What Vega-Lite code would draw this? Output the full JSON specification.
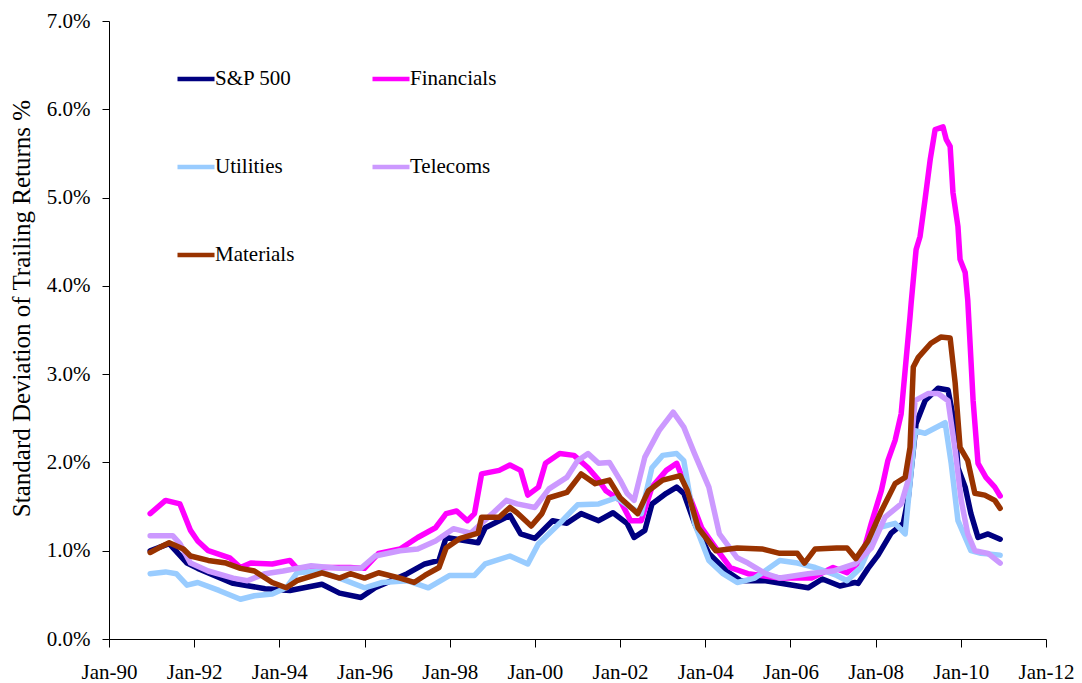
{
  "$schema": "https://vega.github.io/schema/vega-lite/v6.json",
  "width": 937,
  "height": 618,
  "autosize": "none",
  "padding": {"left": 109, "top": 21, "right": 36, "bottom": 44},
  "background": "white",
  "config": {"view": {"stroke": null}, "font": "Liberation Serif"},
  "datasets": {
    "sp": [
      {"d":"1990-12-20","v":1.00},{"d":"1991-06-01","v":1.08},{"d":"1991-11-01","v":0.86},{"d":"1992-02-01","v":0.80},{"d":"1992-12-01","v":0.63},{"d":"1993-09-01","v":0.57},{"d":"1994-04-01","v":0.55},{"d":"1995-01-01","v":0.62},{"d":"1995-06-01","v":0.52},{"d":"1995-12-01","v":0.47},{"d":"1996-04-01","v":0.58},{"d":"1997-01-01","v":0.74},{"d":"1997-06-01","v":0.85},{"d":"1997-10-01","v":0.89},{"d":"1997-12-01","v":1.15},{"d":"1998-09-01","v":1.09},{"d":"1998-11-01","v":1.26},{"d":"1999-06-01","v":1.40},{"d":"1999-09-01","v":1.19},{"d":"2000-01-01","v":1.14},{"d":"2000-06-01","v":1.34},{"d":"2000-10-01","v":1.31},{"d":"2001-02-01","v":1.42},{"d":"2001-07-01","v":1.34},{"d":"2001-11-01","v":1.43},{"d":"2002-03-01","v":1.31},{"d":"2002-05-01","v":1.15},{"d":"2002-08-01","v":1.23},{"d":"2002-10-01","v":1.53},{"d":"2003-02-01","v":1.65},{"d":"2003-05-01","v":1.72},{"d":"2003-07-01","v":1.65},{"d":"2003-10-01","v":1.31},{"d":"2004-02-01","v":0.97},{"d":"2004-07-01","v":0.77},{"d":"2004-11-01","v":0.66},{"d":"2005-06-01","v":0.66},{"d":"2005-12-01","v":0.62},{"d":"2006-06-01","v":0.58},{"d":"2006-10-01","v":0.68},{"d":"2007-03-01","v":0.60},{"d":"2007-07-07","v":0.64},{"d":"2007-08-04","v":0.63},{"d":"2007-10-28","v":0.80},{"d":"2008-01-22","v":0.95},{"d":"2008-05-13","v":1.20},{"d":"2008-08-25","v":1.31},{"d":"2008-10-07","v":1.60},{"d":"2008-12-13","v":2.44},{"d":"2009-02-28","v":2.70},{"d":"2009-06-19","v":2.84},{"d":"2009-09-13","v":2.82},{"d":"2009-11-13","v":2.40},{"d":"2009-12-07","v":1.94},{"d":"2010-02-07","v":1.72},{"d":"2010-03-28","v":1.42},{"d":"2010-05-28","v":1.15},{"d":"2010-08-22","v":1.19},{"d":"2010-12-04","v":1.13}
    ],
    "fin": [
      {"d":"1990-12-20","v":1.42},{"d":"1991-05-01","v":1.57},{"d":"1991-09-01","v":1.53},{"d":"1991-12-01","v":1.23},{"d":"1992-02-01","v":1.11},{"d":"1992-05-01","v":1.00},{"d":"1992-11-01","v":0.92},{"d":"1993-02-01","v":0.81},{"d":"1993-05-01","v":0.86},{"d":"1993-11-01","v":0.85},{"d":"1994-04-01","v":0.89},{"d":"1994-06-01","v":0.80},{"d":"1995-02-01","v":0.81},{"d":"1995-09-01","v":0.81},{"d":"1996-01-01","v":0.80},{"d":"1996-05-01","v":0.97},{"d":"1996-11-01","v":1.02},{"d":"1997-04-01","v":1.15},{"d":"1997-09-01","v":1.26},{"d":"1997-12-01","v":1.42},{"d":"1998-03-01","v":1.45},{"d":"1998-06-01","v":1.34},{"d":"1998-08-01","v":1.42},{"d":"1998-10-01","v":1.87},{"d":"1999-03-01","v":1.91},{"d":"1999-06-01","v":1.97},{"d":"1999-09-01","v":1.91},{"d":"1999-11-01","v":1.63},{"d":"2000-02-01","v":1.72},{"d":"2000-04-01","v":1.99},{"d":"2000-08-01","v":2.10},{"d":"2000-12-01","v":2.08},{"d":"2001-04-01","v":1.94},{"d":"2001-07-01","v":1.80},{"d":"2001-09-01","v":1.68},{"d":"2002-01-01","v":1.57},{"d":"2002-04-01","v":1.34},{"d":"2002-07-01","v":1.34},{"d":"2002-10-01","v":1.72},{"d":"2003-02-01","v":1.91},{"d":"2003-05-01","v":1.99},{"d":"2003-08-01","v":1.68},{"d":"2003-12-01","v":1.26},{"d":"2004-04-01","v":1.03},{"d":"2004-08-01","v":0.81},{"d":"2005-01-01","v":0.74},{"d":"2005-10-01","v":0.69},{"d":"2006-07-01","v":0.69},{"d":"2007-01-01","v":0.81},{"d":"2007-05-01","v":0.75},{"d":"2007-08-28","v":0.89},{"d":"2007-11-25","v":1.31},{"d":"2008-02-19","v":1.68},{"d":"2008-04-15","v":2.02},{"d":"2008-06-16","v":2.25},{"d":"2008-08-07","v":2.55},{"d":"2008-10-22","v":3.65},{"d":"2008-11-01","v":3.81},{"d":"2008-12-13","v":4.41},{"d":"2009-01-16","v":4.56},{"d":"2009-02-28","v":4.98},{"d":"2009-04-13","v":5.43},{"d":"2009-05-25","v":5.77},{"d":"2009-08-01","v":5.80},{"d":"2009-08-28","v":5.66},{"d":"2009-10-01","v":5.58},{"d":"2009-10-25","v":5.06},{"d":"2009-12-07","v":4.67},{"d":"2009-12-25","v":4.30},{"d":"2010-02-07","v":4.15},{"d":"2010-03-01","v":3.84},{"d":"2010-04-16","v":2.70},{"d":"2010-05-28","v":1.99},{"d":"2010-08-04","v":1.83},{"d":"2010-10-19","v":1.72},{"d":"2010-12-04","v":1.62}
    ],
    "utl": [
      {"d":"1990-12-20","v":0.74},{"d":"1991-05-01","v":0.76},{"d":"1991-08-01","v":0.74},{"d":"1991-11-01","v":0.61},{"d":"1992-02-01","v":0.64},{"d":"1992-08-01","v":0.55},{"d":"1993-02-01","v":0.45},{"d":"1993-06-01","v":0.49},{"d":"1993-11-01","v":0.51},{"d":"1994-03-01","v":0.58},{"d":"1994-06-01","v":0.75},{"d":"1994-12-01","v":0.77},{"d":"1995-06-01","v":0.69},{"d":"1996-01-01","v":0.58},{"d":"1996-06-01","v":0.64},{"d":"1997-01-01","v":0.66},{"d":"1997-07-01","v":0.58},{"d":"1998-01-01","v":0.72},{"d":"1998-08-01","v":0.72},{"d":"1998-11-01","v":0.85},{"d":"1999-06-01","v":0.94},{"d":"1999-11-01","v":0.85},{"d":"2000-02-01","v":1.08},{"d":"2000-08-01","v":1.31},{"d":"2001-01-01","v":1.52},{"d":"2001-07-01","v":1.53},{"d":"2001-12-01","v":1.60},{"d":"2002-04-01","v":1.49},{"d":"2002-07-01","v":1.42},{"d":"2002-10-01","v":1.94},{"d":"2003-01-01","v":2.08},{"d":"2003-05-01","v":2.10},{"d":"2003-07-01","v":2.02},{"d":"2003-10-01","v":1.31},{"d":"2004-02-01","v":0.89},{"d":"2004-06-01","v":0.74},{"d":"2004-10-01","v":0.64},{"d":"2005-03-01","v":0.69},{"d":"2005-10-01","v":0.89},{"d":"2006-03-01","v":0.86},{"d":"2006-08-01","v":0.81},{"d":"2007-02-01","v":0.72},{"d":"2007-05-01","v":0.66},{"d":"2007-08-28","v":0.81},{"d":"2008-01-22","v":1.26},{"d":"2008-06-16","v":1.31},{"d":"2008-09-10","v":1.19},{"d":"2008-12-04","v":2.36},{"d":"2009-02-28","v":2.33},{"d":"2009-08-19","v":2.45},{"d":"2009-10-10","v":1.99},{"d":"2009-12-07","v":1.34},{"d":"2010-03-28","v":1.00},{"d":"2010-06-22","v":0.97},{"d":"2010-12-04","v":0.95}
    ],
    "tel": [
      {"d":"1990-12-20","v":1.17},{"d":"1991-07-01","v":1.17},{"d":"1991-09-01","v":1.08},{"d":"1991-12-01","v":0.86},{"d":"1992-05-01","v":0.77},{"d":"1992-12-01","v":0.69},{"d":"1993-04-01","v":0.66},{"d":"1993-09-01","v":0.74},{"d":"1994-02-01","v":0.77},{"d":"1994-10-01","v":0.83},{"d":"1995-06-01","v":0.80},{"d":"1995-12-01","v":0.80},{"d":"1996-04-01","v":0.94},{"d":"1996-11-01","v":1.00},{"d":"1997-04-01","v":1.02},{"d":"1997-09-01","v":1.11},{"d":"1998-02-01","v":1.25},{"d":"1998-07-01","v":1.20},{"d":"1999-01-01","v":1.42},{"d":"1999-05-01","v":1.57},{"d":"1999-08-01","v":1.53},{"d":"2000-01-01","v":1.49},{"d":"2000-05-01","v":1.70},{"d":"2000-10-01","v":1.83},{"d":"2001-01-01","v":2.02},{"d":"2001-04-01","v":2.10},{"d":"2001-07-01","v":1.99},{"d":"2001-10-01","v":2.00},{"d":"2002-01-01","v":1.80},{"d":"2002-03-01","v":1.65},{"d":"2002-05-01","v":1.57},{"d":"2002-08-01","v":2.06},{"d":"2002-12-01","v":2.36},{"d":"2003-04-01","v":2.57},{"d":"2003-07-01","v":2.40},{"d":"2003-10-01","v":2.10},{"d":"2004-02-01","v":1.72},{"d":"2004-05-01","v":1.19},{"d":"2004-10-01","v":0.92},{"d":"2005-01-01","v":0.86},{"d":"2005-06-01","v":0.74},{"d":"2005-10-01","v":0.69},{"d":"2006-06-01","v":0.74},{"d":"2007-01-01","v":0.77},{"d":"2007-07-07","v":0.85},{"d":"2007-11-25","v":1.03},{"d":"2008-03-22","v":1.38},{"d":"2008-08-07","v":1.53},{"d":"2008-10-07","v":1.80},{"d":"2008-12-04","v":2.70},{"d":"2009-03-25","v":2.78},{"d":"2009-06-19","v":2.78},{"d":"2009-09-13","v":2.70},{"d":"2009-11-13","v":2.14},{"d":"2010-01-04","v":1.57},{"d":"2010-03-01","v":1.19},{"d":"2010-05-01","v":1.00},{"d":"2010-08-22","v":0.97},{"d":"2010-12-04","v":0.86}
    ],
    "mat": [
      {"d":"1990-12-20","v":0.98},{"d":"1991-03-01","v":1.03},{"d":"1991-06-01","v":1.09},{"d":"1991-10-01","v":1.02},{"d":"1991-12-01","v":0.94},{"d":"1992-05-01","v":0.89},{"d":"1992-10-01","v":0.86},{"d":"1993-02-01","v":0.80},{"d":"1993-06-01","v":0.77},{"d":"1993-11-01","v":0.64},{"d":"1994-03-01","v":0.58},{"d":"1994-06-01","v":0.66},{"d":"1995-01-01","v":0.75},{"d":"1995-06-01","v":0.69},{"d":"1995-09-01","v":0.74},{"d":"1996-01-01","v":0.69},{"d":"1996-05-01","v":0.75},{"d":"1996-11-01","v":0.69},{"d":"1997-03-01","v":0.64},{"d":"1997-06-01","v":0.72},{"d":"1997-10-01","v":0.81},{"d":"1997-12-01","v":1.03},{"d":"1998-04-01","v":1.14},{"d":"1998-09-01","v":1.20},{"d":"1998-10-01","v":1.38},{"d":"1999-03-01","v":1.38},{"d":"1999-06-01","v":1.49},{"d":"1999-08-01","v":1.43},{"d":"1999-12-01","v":1.28},{"d":"2000-03-01","v":1.42},{"d":"2000-05-01","v":1.60},{"d":"2000-10-01","v":1.66},{"d":"2001-02-01","v":1.87},{"d":"2001-06-01","v":1.76},{"d":"2001-10-01","v":1.80},{"d":"2002-01-01","v":1.60},{"d":"2002-06-01","v":1.42},{"d":"2002-09-01","v":1.68},{"d":"2003-01-01","v":1.80},{"d":"2003-06-01","v":1.85},{"d":"2003-08-01","v":1.68},{"d":"2003-11-01","v":1.26},{"d":"2004-04-01","v":1.00},{"d":"2004-10-01","v":1.03},{"d":"2005-05-01","v":1.02},{"d":"2005-10-01","v":0.97},{"d":"2006-03-01","v":0.97},{"d":"2006-05-01","v":0.86},{"d":"2006-08-01","v":1.02},{"d":"2007-02-01","v":1.03},{"d":"2007-05-01","v":1.03},{"d":"2007-07-16","v":0.91},{"d":"2007-10-28","v":1.11},{"d":"2008-02-19","v":1.45},{"d":"2008-06-16","v":1.76},{"d":"2008-09-10","v":1.83},{"d":"2008-10-22","v":2.17},{"d":"2008-11-19","v":3.08},{"d":"2009-01-01","v":3.19},{"d":"2009-04-19","v":3.35},{"d":"2009-07-13","v":3.42},{"d":"2009-10-01","v":3.41},{"d":"2009-11-13","v":2.90},{"d":"2009-12-25","v":2.17},{"d":"2010-03-01","v":2.02},{"d":"2010-05-01","v":1.65},{"d":"2010-07-25","v":1.63},{"d":"2010-10-19","v":1.57},{"d":"2010-12-04","v":1.48}
    ]
  },
  "layer": [
    {"data": {"name": "sp"}, "transform": [{"calculate": "'S&P 500'", "as": "s"}],
     "mark": {"type": "line", "strokeWidth": 5.5, "strokeJoin": "round", "strokeCap": "round"},
     "encoding": {"x": {"field": "d", "type": "temporal"}, "y": {"field": "v", "type": "quantitative"}, "color": {"field": "s", "type": "nominal"}}},
    {"data": {"name": "fin"}, "transform": [{"calculate": "'Financials'", "as": "s"}],
     "mark": {"type": "line", "strokeWidth": 5.5, "strokeJoin": "round", "strokeCap": "round"},
     "encoding": {"x": {"field": "d", "type": "temporal"}, "y": {"field": "v", "type": "quantitative"}, "color": {"field": "s", "type": "nominal"}}},
    {"data": {"name": "utl"}, "transform": [{"calculate": "'Utilities'", "as": "s"}],
     "mark": {"type": "line", "strokeWidth": 5.5, "strokeJoin": "round", "strokeCap": "round"},
     "encoding": {"x": {"field": "d", "type": "temporal"}, "y": {"field": "v", "type": "quantitative"}, "color": {"field": "s", "type": "nominal"}}},
    {"data": {"name": "tel"}, "transform": [{"calculate": "'Telecoms'", "as": "s"}],
     "mark": {"type": "line", "strokeWidth": 5.5, "strokeJoin": "round", "strokeCap": "round"},
     "encoding": {"x": {"field": "d", "type": "temporal"}, "y": {"field": "v", "type": "quantitative"}, "color": {"field": "s", "type": "nominal"}}},
    {"data": {"name": "mat"}, "transform": [{"calculate": "'Materials'", "as": "s"}],
     "mark": {"type": "line", "strokeWidth": 5.5, "strokeJoin": "round", "strokeCap": "round"},
     "encoding": {"x": {"field": "d", "type": "temporal"}, "y": {"field": "v", "type": "quantitative"}, "color": {"field": "s", "type": "nominal"}}}
  ],
  "resolve": {"scale": {"color": "shared"}},
  "encoding": {
    "x": {"field": "d", "type": "temporal",
      "scale": {"domain": [{"year": 1990, "month": 1, "date": 1}, {"year": 2012, "month": 1, "date": 1}]},
      "axis": {"title": null, "format": "%b-%y", "grid": false,
        "values": [{"year": 1990},{"year": 1992},{"year": 1994},{"year": 1996},{"year": 1998},{"year": 2000},{"year": 2002},{"year": 2004},{"year": 2006},{"year": 2008},{"year": 2010},{"year": 2012}],
        "domainColor": "#000000", "tickColor": "#000000", "tickSize": 8, "labelPadding": 14,
        "labelFont": "Liberation Serif", "labelFontSize": 21, "labelColor": "#000000", "labelFlush": false, "labelOverlap": false}},
    "y": {"field": "v", "type": "quantitative",
      "scale": {"domain": [0, 7], "nice": false, "zero": true},
      "axis": {"title": "Standard Deviation of Trailing Returns %", "grid": false,
        "values": [0,1,2,3,4,5,6,7], "labelExpr": "format(datum.value, '.1f') + '%'",
        "domainColor": "#000000", "tickColor": "#000000", "tickSize": 7, "labelPadding": 12,
        "labelFont": "Liberation Serif", "labelFontSize": 21, "labelColor": "#000000",
        "titleFont": "Liberation Serif", "titleFontSize": 25, "titleFontWeight": "normal", "titleColor": "#000000",
        "titleX": -88, "titleY": 287, "titleBaseline": "middle"}},
    "color": {"field": "s", "type": "nominal",
      "scale": {"domain": ["S&P 500", "Utilities", "Materials", "Financials", "Telecoms"],
                "range": ["#000080", "#99CCFF", "#993300", "#FF00FF", "#CC99FF"]},
      "legend": {"title": null, "orient": "none", "legendX": 66, "legendY": 37, "columns": 2,
        "padding": 0, "rowPadding": 57, "columnPadding": 68, "symbolType": "stroke", "symbolSize": 1369,
        "symbolStrokeWidth": 4.5, "labelFont": "Liberation Serif", "labelFontSize": 21, "labelColor": "#000000",
        "labelOffset": -2, "labelLimit": 300}}
  }
}
